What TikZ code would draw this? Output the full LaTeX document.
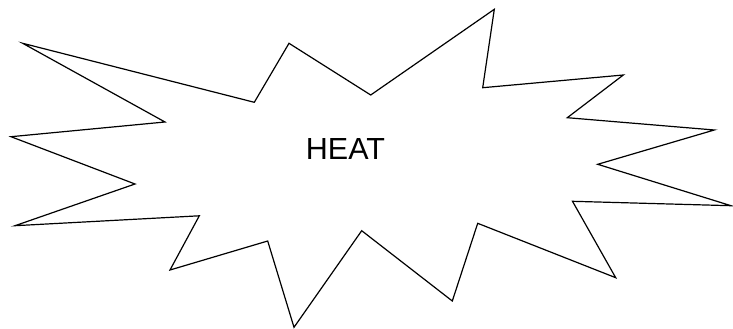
\documentclass[tikz,border=0pt]{standalone}
\usepackage{fontspec}
\setmainfont{Liberation Sans}
\begin{document}
\begin{tikzpicture}[x=1pt,y=-1pt,
  burst/.style={draw=black,line width=1.2pt,line join=miter,fill=white},
  label/.style={font=\fontsize{30.5}{36}\selectfont,inner sep=0pt}]
\useasboundingbox (0,0) rectangle (733,329);
\draw[burst] (22.7,43.3) -- (254.3,102.3) -- (289,43.3) -- (370.7,95) -- (494.3,9.3)
  -- (482.7,87.7) -- (623.3,75) -- (567.3,117.7) -- (714.3,130) -- (597.7,164.3)
  -- (731,205.7) -- (572.5,201.3) -- (615.7,277.7) -- (477.7,223.3) -- (452.3,301)
  -- (361.7,230.7) -- (294,327.3) -- (267.7,241) -- (170,270) -- (199.3,215.8)
  -- (15,225.7) -- (135,184) -- (11,136.7) -- (165,122) -- cycle;
\node[label] (heat) at (345.5,149.5) {HEAT};
\end{tikzpicture}
\end{document}
